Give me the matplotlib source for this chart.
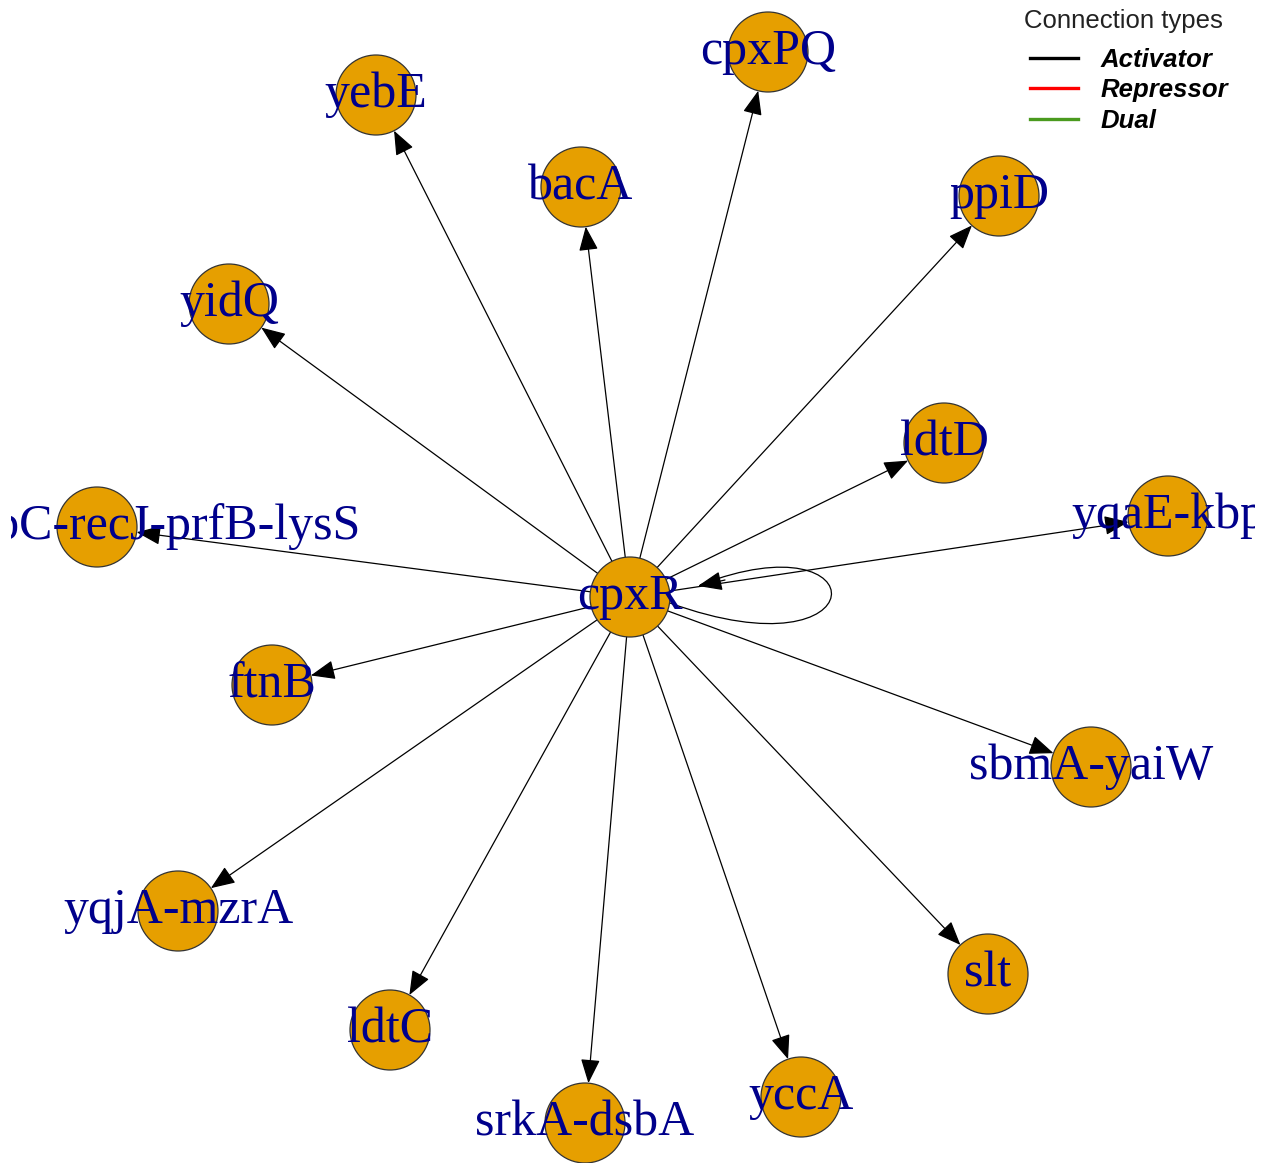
import matplotlib

matplotlib.use("Agg")
import matplotlib.pyplot as plt
from matplotlib.lines import Line2D
from matplotlib.patches import Circle, FancyArrowPatch, PathPatch
from matplotlib.path import Path

# node layout (screen-like coordinates, y grows downwards)
genes = [
    "cpxR", "yebE", "cpxPQ", "bacA", "ppiD", "yidQ", "ldtD",
    "xerD-dsbC-recJ-prfB-lysS", "yqaE-kbp", "ftnB", "sbmA-yaiW",
    "yqjA-mzrA", "ldtC", "slt", "srkA-dsbA", "yccA",
]
layout_x = [630, 376, 768, 581, 999, 229, 944, 97, 1168, 272, 1091, 178, 390, 988, 585, 801]
layout_y = [597, 95, 52, 187, 196, 304, 443, 527, 516, 685, 767, 911, 1030, 974, 1123, 1097]

# edges: cpxR regulates every other gene (all activators) plus itself
edge_from = ["cpxR"] * 15
edge_to = genes[1:]
edge_type = ["Activator"] * 15
loop_type = "Activator"

legend_title = "Connection types"
legend_labels = ["Activator", "Repressor", "Dual"]
legend_colors = ["black", "red", "#4a9a1e"]
type_color = dict(zip(legend_labels, legend_colors))

NODE_R = 40
NODE_COLOR = "#E69F00"
LABEL_COLOR = "#00008B"
W, H = 1268, 1163

fig = plt.figure(figsize=(W / 100, H / 100), dpi=100)
ax = fig.add_axes([11 / W, 0, (1255 - 11) / W, 1])
ax.set_xlim(11, 1255)
ax.set_ylim(H, 0)
ax.set_aspect("equal")
ax.axis("off")

pos = {g: (x, y) for g, x, y in zip(genes, layout_x, layout_y)}
px_to_pt = 72 / fig.dpi
head = "-|>,head_length=0.5,head_width=0.2"

for src, dst, kind in zip(edge_from, edge_to, edge_type):
    arrow = FancyArrowPatch(
        pos[src], pos[dst],
        arrowstyle=head,
        mutation_scale=30,
        shrinkA=0,
        shrinkB=NODE_R * px_to_pt,
        color=type_color[kind],
        linewidth=0.9,
        zorder=1,
    )
    ax.add_patch(arrow)

# self loop on cpxR
cx, cy = pos["cpxR"]
loop = Path(
    [(cx + 40, cy + 6), (cx + 250, cy + 82), (cx + 250, cy - 82), (cx + 70, cy - 12)],
    [Path.MOVETO, Path.CURVE4, Path.CURVE4, Path.CURVE4],
)
ax.add_patch(PathPatch(loop, facecolor="none", edgecolor=type_color[loop_type], linewidth=0.9, zorder=1))
ax.add_patch(FancyArrowPatch(
    (cx + 95, cy - 17), (cx + 68, cy - 11),
    arrowstyle=head, mutation_scale=30, shrinkA=0, shrinkB=0,
    color=type_color[loop_type], linewidth=0.9, zorder=1,
))

for g in genes:
    x, y = pos[g]
    ax.add_patch(Circle((x, y), NODE_R, facecolor=NODE_COLOR, edgecolor="#333333", linewidth=0.9, zorder=2))
    ax.text(x, y, g, ha="center", va="center", fontsize=36, family="Liberation Serif",
            color=LABEL_COLOR, zorder=3, clip_on=True)

fig.text(1024 / W, 1 - 21 / H, legend_title, ha="left", va="center",
         family="Liberation Sans", fontsize=18.5, color="#222222")
handles = [Line2D([], [], color=c, linewidth=2.4) for c in legend_colors]
fig.legend(
    handles, legend_labels,
    loc="upper left",
    bbox_to_anchor=(1030 / W, 1 - 48 / H),
    frameon=False,
    prop={"family": "Liberation Sans", "weight": "bold", "style": "italic", "size": 18.5},
    handlelength=1.87,
    handletextpad=0.86,
    labelspacing=0.25,
    borderpad=0,
    borderaxespad=0,
)

fig.savefig("out.png")
